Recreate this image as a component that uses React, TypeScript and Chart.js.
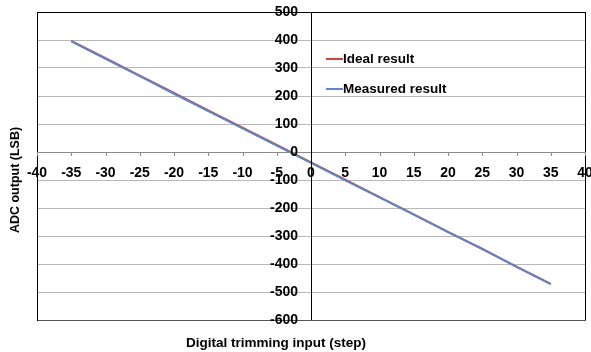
import React, { useEffect, useRef } from "react";
import { Chart, registerables } from "chart.js";

Chart.register(...registerables);

const steps = [-35, -30, -25, -20, -15, -10, -5, 0, 5, 10, 15, 20, 25, 30, 35];
const idealResult = [397, 335, 273, 211, 149, 87, 25, -37, -99, -161, -223, -285, -347, -409, -471];
const measuredResult = [395, 333, 271, 208, 146, 84, 23, -39, -101, -162, -224, -286, -345, -410, -472];
const xTicks = [-40, -35, -30, -25, -20, -15, -10, -5, 0, 5, 10, 15, 20, 25, 30, 35, 40];
const yTicks = [500, 400, 300, 200, 100, 0, -100, -200, -300, -400, -500, -600];
const seriesNames = ["Ideal result", "Measured result"];
const xTitle = "Digital trimming input (step)";
const yTitle = "ADC output (LSB)";

const RED = "#d0413e";
const BLUE = "#5b87c8";
const FAM = "'Liberation Sans', Arial, sans-serif";
const TICK_FONT = `bold 14px ${FAM}`;
const XTITLE_FONT = `bold 13.5px ${FAM}`;
const YTITLE_FONT = `bold 12.5px ${FAM}`;
const LEGEND_FONT = `bold 13.5px ${FAM}`;

export default function App() {
  const ref = useRef<HTMLCanvasElement>(null);
  useEffect(() => {
    document.body.style.margin = "0";
    const canvas = ref.current!;
    const overlay = {
      id: "overlay",
      afterDatasetsDraw(chart: any) {
        const ctx = chart.ctx as CanvasRenderingContext2D;
        const xs = chart.scales.x;
        const ys = chart.scales.y;
        const ca = chart.chartArea;
        const x0 = xs.getPixelForValue(0);
        const y0 = ys.getPixelForValue(0);
        ctx.save();
        ctx.strokeStyle = "#000";
        ctx.lineWidth = 1;
        ctx.beginPath();
        ctx.moveTo(ca.left, Math.round(ca.top) + 0.5);
        ctx.lineTo(ca.right, Math.round(ca.top) + 0.5);
        ctx.moveTo(Math.round(ca.right) + 0.5, ca.top);
        ctx.lineTo(Math.round(ca.right) + 0.5, ca.bottom);
        ctx.stroke();
        ctx.strokeStyle = "#8a8a8a";
        ctx.beginPath();
        ctx.moveTo(ca.left, Math.round(y0) + 0.5);
        ctx.lineTo(ca.right, Math.round(y0) + 0.5);
        for (const t of xTicks) {
          const px = Math.round(xs.getPixelForValue(t)) + 0.5;
          ctx.moveTo(px, y0);
          ctx.lineTo(px, y0 + 4);
        }
        ctx.stroke();
        ctx.strokeStyle = "#000";
        ctx.beginPath();
        ctx.moveTo(Math.round(x0) + 0.5, ca.top);
        ctx.lineTo(Math.round(x0) + 0.5, ca.bottom);
        ctx.stroke();
        ctx.restore();
      },
      afterDraw(chart: any) {
        const ctx = chart.ctx as CanvasRenderingContext2D;
        const xs = chart.scales.x;
        const ys = chart.scales.y;
        const x0 = xs.getPixelForValue(0);
        const y0 = ys.getPixelForValue(0);
        ctx.save();
        ctx.fillStyle = "#000";
        ctx.font = TICK_FONT;
        ctx.textAlign = "right";
        ctx.textBaseline = "middle";
        for (const t of yTicks) ctx.fillText(String(t), x0 - 13, ys.getPixelForValue(t));
        ctx.textAlign = "center";
        for (const t of xTicks) ctx.fillText(String(t), xs.getPixelForValue(t), y0 + 21);
        ctx.font = XTITLE_FONT;
        ctx.fillText(xTitle, 276, 343);
        ctx.save();
        ctx.font = YTITLE_FONT;
        ctx.translate(16, 180);
        ctx.rotate(-Math.PI / 2);
        ctx.fillText(yTitle, 0, 0);
        ctx.restore();
        const colors = [RED, BLUE];
        const ly = [59, 89];
        ctx.font = LEGEND_FONT;
        ctx.textAlign = "left";
        seriesNames.forEach((n, i) => {
          ctx.strokeStyle = colors[i];
          ctx.lineWidth = 2;
          ctx.beginPath();
          ctx.moveTo(326, ly[i]);
          ctx.lineTo(343, ly[i]);
          ctx.stroke();
          ctx.fillText(n, 343, ly[i]);
        });
        ctx.restore();
      },
    };
    const chart = new Chart(canvas, {
      type: "line",
      data: {
        datasets: [
          {
            label: seriesNames[0],
            data: steps.map((s, i) => ({ x: s, y: idealResult[i] })),
            borderColor: RED,
            borderWidth: 2,
            pointRadius: 0,
            order: 1,
          },
          {
            label: seriesNames[1],
            data: steps.map((s, i) => ({ x: s, y: measuredResult[i] })),
            borderColor: BLUE,
            borderWidth: 2,
            pointRadius: 0,
            order: 0,
          },
        ],
      },
      options: {
        responsive: false,
        animation: false,
        events: [],
        layout: { padding: { left: 37, right: 6, top: 12, bottom: 32 } },
        plugins: { legend: { display: false }, tooltip: { enabled: false } },
        scales: {
          x: {
            type: "linear",
            min: -40,
            max: 40,
            ticks: { display: false, stepSize: 5 },
            grid: { display: false },
            border: { display: true, color: "#555" },
            afterFit: (s: any) => { s.height = 0; },
          },
          y: {
            type: "linear",
            min: -600,
            max: 500,
            ticks: { display: false, stepSize: 100 },
            grid: { color: "#b8b8b8", drawTicks: false },
            border: { display: true, color: "#000" },
            afterFit: (s: any) => { s.width = 0; },
          },
        },
      },
      plugins: [overlay],
    } as any);
    return () => chart.destroy();
  }, []);
  return <canvas ref={ref} width={591} height={352} style={{ display: "block" }} />;
}
